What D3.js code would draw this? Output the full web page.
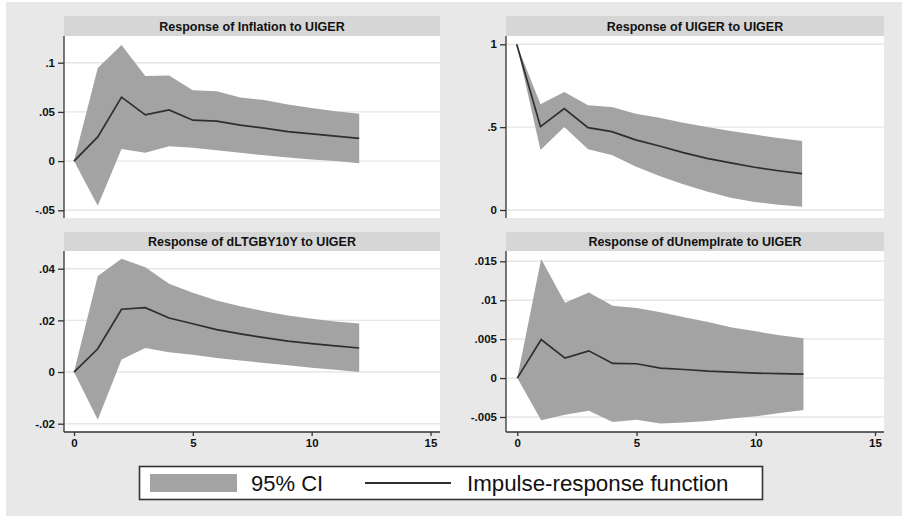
<!DOCTYPE html>
<html>
<head>
<meta charset="utf-8">
<script src="https://cdn.jsdelivr.net/npm/d3@7"></script>
<style>
  html, body { margin: 0; padding: 0; background: #ffffff; }
  svg { display: block; font-family: "Liberation Sans", Arial, sans-serif; }
</style>
</head>
<body>
<svg id="chart" width="908" height="521"></svg>
<script>
// ---------- DATA ----------
const steps = [0,1,2,3,4,5,6,7,8,9,10,11,12];

const titles = [
  "Response of Inflation to UIGER",
  "Response of UIGER to UIGER",
  "Response of dLTGBY10Y to UIGER",
  "Response of dUnemplrate to UIGER"
];

// Inflation
const inflIrf = [0, 0.0246, 0.065, 0.047, 0.052, 0.0416, 0.0406, 0.0365, 0.0335, 0.030, 0.0277, 0.0254, 0.023];
const inflHi  = [0, 0.0946, 0.118, 0.0865, 0.087, 0.072, 0.071, 0.0646, 0.062, 0.0575, 0.054, 0.0507, 0.048];
const inflLo  = [0, -0.0453, 0.0122, 0.0084, 0.0152, 0.0135, 0.011, 0.0084, 0.006, 0.0037, 0.0017, 0.0, -0.0023];

// UIGER
const uigerIrf = [1, 0.503, 0.612, 0.497, 0.473, 0.423, 0.386, 0.346, 0.312, 0.284, 0.258, 0.237, 0.219];
const uigerHi  = [1, 0.638, 0.712, 0.632, 0.622, 0.581, 0.557, 0.527, 0.501, 0.477, 0.455, 0.435, 0.416];
const uigerLo  = [1, 0.362, 0.501, 0.366, 0.332, 0.262, 0.205, 0.155, 0.111, 0.074, 0.048, 0.032, 0.020];

// dLTGBY10Y
const ltgbIrf = [0, 0.0090, 0.0243, 0.0249, 0.0209, 0.0187, 0.0164, 0.0148, 0.0133, 0.0120, 0.0110, 0.0101, 0.0093];
const ltgbHi  = [0, 0.0372, 0.0439, 0.0406, 0.0342, 0.0307, 0.0277, 0.0255, 0.0235, 0.0219, 0.0206, 0.0196, 0.0188];
const ltgbLo  = [0, -0.0185, 0.0049, 0.0093, 0.0077, 0.0067, 0.0054, 0.0045, 0.0035, 0.0026, 0.0017, 0.0009, 0.0];

// dUnemplrate
const unempIrf = [0, 0.00496, 0.00256, 0.0035, 0.00188, 0.00184, 0.00128, 0.0011, 0.0009, 0.00077, 0.00064, 0.00056, 0.0005];
const unempHi  = [0, 0.0153, 0.00966, 0.0110, 0.0093, 0.0090, 0.00846, 0.0078, 0.0072, 0.0065, 0.0060, 0.0055, 0.0051];
const unempLo  = [0, -0.00543, -0.0047, -0.0042, -0.00564, -0.00534, -0.00585, -0.0057, -0.0055, -0.0052, -0.0049, -0.0045, -0.0041];

// Tick values and labels
const xTicks = [0, 5, 10, 15];
const xTickLabels = ["0", "5", "10", "15"];
const inflTicks = [-0.05, 0, 0.05, 0.1];
const inflTickLabels = ["-.05", "0", ".05", ".1"];
const uigerTicks = [0, 0.5, 1];
const uigerTickLabels = ["0", ".5", "1"];
const ltgbTicks = [-0.02, 0, 0.02, 0.04];
const ltgbTickLabels = ["-.02", "0", ".02", ".04"];
const unempTicks = [-0.005, 0, 0.005, 0.01, 0.015];
const unempTickLabels = ["-.005", "0", ".005", ".01", ".015"];

const legendLabels = ["95% CI", "Impulse-response function"];

// ---------- STYLE ----------
const bandColor = "#a3a3a3";
const lineColor = "#2e2e2e";
const bgColor = "#e8e8e8";
const titleBarColor = "#d6d6d6";
const gridColor = "#e6e6e6";
const axisColor = "#333333";

const svg = d3.select("#chart");

// Outer gray background
svg.append("rect").attr("x", 6).attr("y", 2).attr("width", 896).attr("height", 514).attr("fill", bgColor);

// Panel layouts
const panels = [
  { title: titles[0], irf: inflIrf, hi: inflHi, lo: inflLo, ticks: inflTicks, tickLabels: inflTickLabels,
    left: 64, right: 440, barTop: 16, top: 36, bottom: 218,
    x0: 74, x15: 430.5, yDom: [-0.05, 0.1], yRange: [210.3, 62.7], xAxis: false },
  { title: titles[1], irf: uigerIrf, hi: uigerHi, lo: uigerLo, ticks: uigerTicks, tickLabels: uigerTickLabels,
    left: 506, right: 884, barTop: 16, top: 36, bottom: 218,
    x0: 516.7, x15: 873.5, yDom: [0, 1], yRange: [210, 44.3], xAxis: false },
  { title: titles[2], irf: ltgbIrf, hi: ltgbHi, lo: ltgbLo, ticks: ltgbTicks, tickLabels: ltgbTickLabels,
    left: 64, right: 440, barTop: 232, top: 251, bottom: 432,
    x0: 74, x15: 430.5, yDom: [-0.02, 0.04], yRange: [423.7, 268.7], xAxis: true },
  { title: titles[3], irf: unempIrf, hi: unempHi, lo: unempLo, ticks: unempTicks, tickLabels: unempTickLabels,
    left: 506, right: 884, barTop: 232, top: 251, bottom: 432,
    x0: 517.3, x15: 875, yDom: [-0.005, 0.015], yRange: [417, 261.3], xAxis: true }
];

panels.forEach(p => {
  const g = svg.append("g");
  const x = d3.scaleLinear().domain([0, 15]).range([p.x0, p.x15]);
  const y = d3.scaleLinear().domain(p.yDom).range(p.yRange);

  // title bar
  g.append("rect").attr("x", p.left).attr("y", p.barTop)
    .attr("width", p.right - p.left).attr("height", p.top - p.barTop).attr("fill", titleBarColor);
  g.append("text").attr("x", (p.left + p.right) / 2).attr("y", (p.barTop + p.top) / 2 + 4.5)
    .attr("text-anchor", "middle").attr("font-size", 12.5).attr("font-weight", "bold")
    .attr("fill", "#111").text(p.title);

  // plot area
  g.append("rect").attr("x", p.left).attr("y", p.top)
    .attr("width", p.right - p.left).attr("height", p.bottom - p.top).attr("fill", "#ffffff");

  // grid
  g.selectAll(".grid").data(p.ticks).enter().append("line")
    .attr("x1", p.left + 1).attr("x2", p.right)
    .attr("y1", d => y(d)).attr("y2", d => y(d))
    .attr("stroke", gridColor).attr("stroke-width", 1.4);

  // band
  const area = d3.area().x((d, i) => x(steps[i])).y0((d, i) => y(p.lo[i])).y1((d, i) => y(p.hi[i]));
  g.append("path").datum(steps).attr("d", area).attr("fill", bandColor);

  // line
  const line = d3.line().x((d, i) => x(steps[i])).y((d, i) => y(p.irf[i]));
  g.append("path").datum(steps).attr("d", line).attr("fill", "none")
    .attr("stroke", lineColor).attr("stroke-width", 1.7);

  // y axis
  const yAxis = d3.axisLeft(y).tickValues(p.ticks).tickSize(6).tickPadding(3)
    .tickFormat((d, i) => p.tickLabels[i]);
  const ya = g.append("g").attr("transform", `translate(${p.left},0)`).call(yAxis);
  ya.select(".domain").remove();
  ya.append("line").attr("x1", 0).attr("x2", 0).attr("y1", p.top).attr("y2", p.bottom)
    .attr("stroke", axisColor).attr("stroke-width", 1.3);
  ya.selectAll(".tick line").attr("stroke", axisColor).attr("stroke-width", 1.3);
  ya.selectAll(".tick text").attr("font-size", 11.5).attr("font-weight", "bold")
    .attr("fill", "#111").attr("font-family", "Liberation Sans, Arial, sans-serif");

  if (p.xAxis) {
    const xAxis = d3.axisBottom(x).tickValues(xTicks).tickSize(4).tickPadding(3)
      .tickFormat((d, i) => xTickLabels[i]);
    const xa = g.append("g").attr("transform", `translate(0,${p.bottom})`).call(xAxis);
    xa.select(".domain").remove();
    xa.append("line").attr("x1", p.left).attr("x2", p.right).attr("y1", 0).attr("y2", 0)
      .attr("stroke", axisColor).attr("stroke-width", 1.3);
    xa.selectAll(".tick line").attr("stroke", axisColor).attr("stroke-width", 1.3);
    xa.selectAll(".tick text").attr("font-size", 11.5).attr("font-weight", "bold")
      .attr("fill", "#111").attr("font-family", "Liberation Sans, Arial, sans-serif");
  }
});

// Legend
const lg = svg.append("g");
lg.append("rect").attr("x", 139.5).attr("y", 466.5).attr("width", 623).attr("height", 33)
  .attr("fill", "#ffffff").attr("stroke", "#333").attr("stroke-width", 1.6);
lg.append("rect").attr("x", 150).attr("y", 474).attr("width", 87).attr("height", 18).attr("fill", bandColor);
lg.append("text").attr("x", 251).attr("y", 491).attr("font-size", 22).attr("fill", "#111").text(legendLabels[0]);
lg.append("line").attr("x1", 365).attr("x2", 451).attr("y1", 483).attr("y2", 483)
  .attr("stroke", lineColor).attr("stroke-width", 1.8);
lg.append("text").attr("x", 467).attr("y", 491).attr("font-size", 22.3).attr("fill", "#111").text(legendLabels[1]);
</script>
</body>
</html>
